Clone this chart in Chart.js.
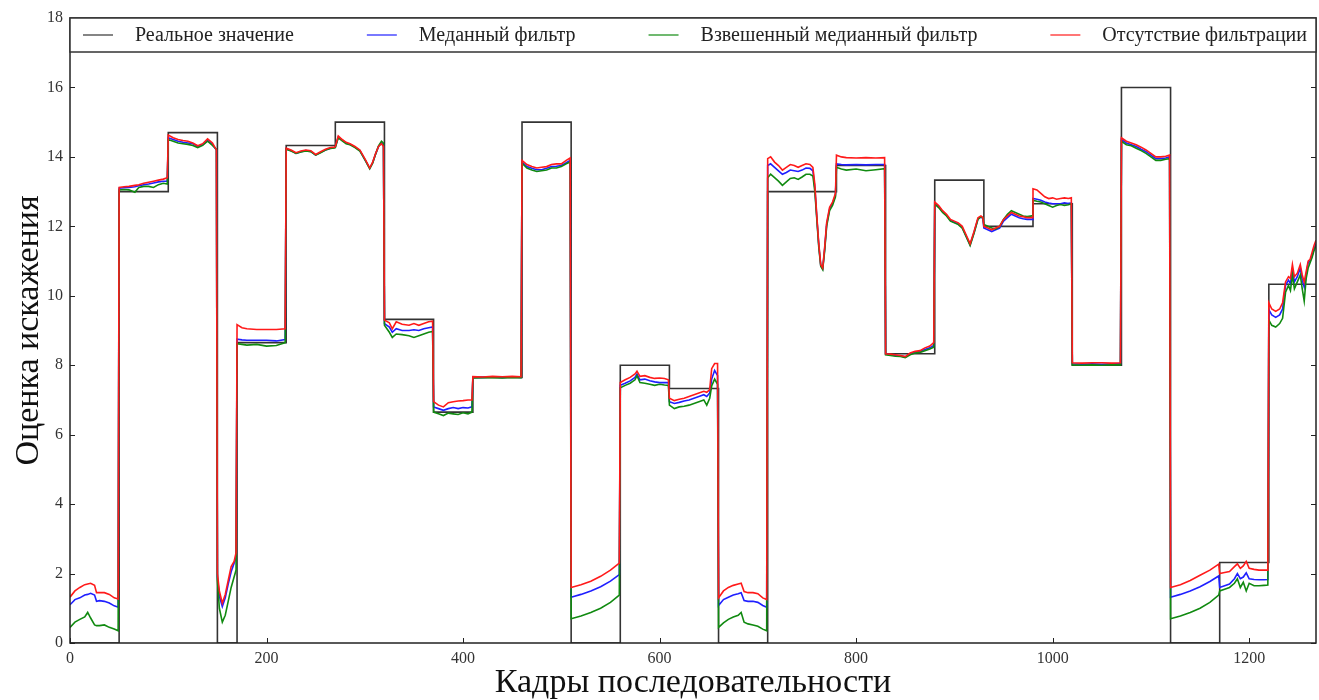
<!DOCTYPE html>
<html>
<head>
<meta charset="utf-8">
<script src="https://cdn.jsdelivr.net/npm/chart.js@4.4.1/dist/chart.umd.min.js"></script>
<style>
  body { margin: 0; background: #fff; }
  canvas { display: block; }
</style>
</head>
<body>
<canvas id="chart" width="1319" height="700"></canvas>
<script>
// real (ground truth) distortion: step starts and levels
var realStarts = [0, 50, 100, 150, 170, 220, 270, 320, 370, 410, 460, 510, 560, 610, 660, 710, 780, 830, 880, 930, 980, 1020, 1070, 1120, 1170, 1220, 1268];
var realLevels = [0, 13, 14.7, 0, 8.65, 14.33, 15, 9.32, 6.65, 7.65, 15, 0, 8, 7.33, 0, 13, 13.75, 8.33, 13.33, 12, 12.65, 8, 16, 0, 2.32, 10.33, 10.33];

// sampled frames for the filtered estimates
var frames = [
  0, 5, 10, 15, 18, 21, 25, 27, 30, 35, 40, 45, 49,
  50, 55, 60, 66, 70, 75, 80, 85, 90, 95, 99,
  100, 105, 110, 115, 120, 125, 130, 135, 140, 145, 149,
  150, 152, 155, 158, 161, 164, 167, 169,
  170, 175, 180, 190, 200, 210, 219,
  220, 225, 230, 235, 240, 245, 250, 255, 260, 265, 269,
  270, 273, 277, 281, 285, 290, 295, 298, 301, 305, 308, 311, 314, 317, 319,
  320, 325, 328, 332, 338, 345, 350, 355, 360, 365, 369,
  370, 375, 380, 385, 390, 395, 400, 405, 409,
  410, 420, 430, 440, 450, 459,
  460, 465, 470, 475, 480, 485, 490, 495, 500, 505, 509,
  510, 520, 530, 540, 550, 559,
  560, 565, 570, 575, 577, 580, 585, 590, 595, 600, 605, 609,
  610, 615, 620, 625, 630, 635, 640, 645, 648, 651, 653, 656, 659,
  660, 665, 670, 675, 680, 683, 686, 690, 695, 700, 705, 709,
  710, 713, 717, 721, 725, 729, 733, 737, 741, 745, 749, 753, 756, 758, 760, 762, 764, 766, 768, 770, 773, 776, 779,
  780, 785, 790, 800, 810, 820, 829,
  830, 835, 840, 845, 850, 855, 860, 865, 870, 875, 879,
  880, 884, 888, 892, 896, 900, 904, 908, 912, 916, 920, 924, 927, 929,
  930, 934, 938, 942, 946, 950, 954, 958, 962, 966, 970, 974, 979,
  980, 984, 988, 992, 996, 1000, 1004, 1008, 1012, 1016, 1019,
  1020, 1030, 1040, 1050, 1060, 1069,
  1070, 1075, 1080, 1085, 1090, 1095, 1100, 1105, 1110, 1115, 1119,
  1120, 1130, 1140, 1150, 1160, 1169,
  1170, 1175, 1180, 1185, 1188, 1191, 1194, 1197, 1200, 1205, 1210, 1215, 1219,
  1220, 1223, 1227, 1231, 1234, 1237, 1240, 1242, 1244, 1246, 1249, 1252, 1254, 1256, 1258, 1260, 1262, 1264, 1266, 1268
];

var medianVals = [
  1.1, 1.25, 1.3, 1.38, 1.4, 1.43, 1.38, 1.2, 1.22, 1.2, 1.15, 1.07, 1.03,
  13.1, 13.11, 13.12, 13.14, 13.17, 13.2, 13.22, 13.25, 13.28, 13.3, 13.3,
  14.55, 14.5, 14.45, 14.42, 14.4, 14.38, 14.3, 14.35, 14.48, 14.35, 14.2,
  1.9, 1.35, 1.05, 1.3, 1.7, 2.05, 2.3, 2.45,
  8.75, 8.73, 8.72, 8.72, 8.72, 8.7, 8.74,
  14.23, 14.18, 14.1, 14.15, 14.18, 14.16, 14.05, 14.13, 14.2, 14.25, 14.27,
  14.28, 14.57, 14.48, 14.4, 14.36, 14.28, 14.18, 14.03, 13.88, 13.67, 13.83, 14.08, 14.3, 14.4, 14.35,
  9.2, 9.1, 8.95, 9.05, 9.0, 9.0, 9.02, 9.0, 9.05, 9.08, 9.1,
  6.8, 6.75, 6.7, 6.75, 6.78, 6.75, 6.78, 6.77, 6.8,
  7.65, 7.65, 7.66, 7.65, 7.66, 7.65,
  13.85, 13.72, 13.67, 13.63, 13.63, 13.67, 13.72, 13.73, 13.75, 13.83, 13.9,
  1.32, 1.4, 1.5, 1.62, 1.78, 1.97,
  7.42, 7.48, 7.55, 7.65, 7.75, 7.58, 7.6, 7.55, 7.52, 7.5, 7.5, 7.5,
  6.95, 6.9, 6.93, 6.97, 7.0, 7.05, 7.1, 7.15, 7.1, 7.2, 7.6, 7.85, 7.7,
  1.08, 1.25, 1.32, 1.38, 1.42, 1.45, 1.22, 1.2, 1.2, 1.17, 1.08, 1.03,
  13.75, 13.8, 13.7, 13.6, 13.5, 13.55, 13.62, 13.6, 13.58, 13.62, 13.68, 13.67, 13.6, 13.1, 12.25, 11.45, 10.87, 10.78, 11.35, 12.05, 12.5, 12.65, 12.9,
  13.8, 13.78, 13.77, 13.78, 13.77, 13.78, 13.78,
  8.32, 8.3, 8.28, 8.27, 8.24, 8.33, 8.37, 8.4, 8.45, 8.5, 8.57,
  12.67, 12.57, 12.42, 12.32, 12.17, 12.12, 12.07, 11.97, 11.72, 11.47, 11.82, 12.22, 12.27, 12.22,
  11.95, 11.9, 11.85, 11.9, 11.95, 12.15, 12.25, 12.35, 12.3, 12.25, 12.22, 12.2, 12.2,
  12.8, 12.78, 12.75, 12.7, 12.67, 12.65, 12.65, 12.65, 12.68, 12.66, 12.67,
  8.04, 8.03, 8.04, 8.03, 8.04, 8.04,
  14.5, 14.4, 14.35, 14.3, 14.22, 14.15, 14.05, 13.95, 13.95, 13.97, 14.0,
  1.32, 1.4, 1.5, 1.62, 1.77, 1.93,
  1.6, 1.65, 1.7, 1.85, 2.0, 1.85, 1.9, 2.02, 1.85, 1.83, 1.82, 1.82, 1.83,
  9.6, 9.45, 9.38, 9.45, 9.62, 10.3, 10.45, 10.35, 10.75, 10.4, 10.55, 10.8, 10.45, 10.25, 10.6, 10.95, 11.0, 11.15, 11.35, 11.5
];

var weightedVals = [
  0.45, 0.6, 0.68, 0.75, 0.88, 0.72, 0.52, 0.5, 0.5, 0.52, 0.45, 0.4, 0.35,
  13.05, 13.06, 13.05, 12.98, 13.12, 13.15, 13.15, 13.12, 13.2, 13.24, 13.22,
  14.5, 14.45, 14.4, 14.38, 14.36, 14.33, 14.27, 14.33, 14.45, 14.33, 14.22,
  1.8, 1.0, 0.6, 0.8, 1.2, 1.6, 1.9, 2.1,
  8.62, 8.6, 8.58, 8.6, 8.55, 8.57, 8.65,
  14.22, 14.17, 14.1, 14.14, 14.17, 14.15, 14.05, 14.12, 14.2, 14.24, 14.26,
  14.27, 14.55, 14.46, 14.38, 14.35, 14.27, 14.17, 14.02, 13.87, 13.66, 13.82, 14.08, 14.32, 14.45, 14.4,
  9.15, 8.95, 8.8, 8.9, 8.88, 8.85, 8.8, 8.85, 8.9, 8.95, 8.97,
  6.65, 6.6, 6.55, 6.62, 6.6, 6.58, 6.63, 6.6, 6.65,
  7.63, 7.64, 7.64, 7.63, 7.65, 7.64,
  13.82, 13.68, 13.62, 13.58, 13.6, 13.62, 13.68, 13.68, 13.72, 13.8, 13.85,
  0.7, 0.78, 0.88, 1.0, 1.17, 1.38,
  7.35, 7.42, 7.48, 7.58, 7.7, 7.5, 7.48, 7.45, 7.42, 7.45, 7.43, 7.42,
  6.85, 6.75, 6.8, 6.82, 6.85, 6.9, 6.95, 7.0, 6.85, 7.05, 7.4, 7.6, 7.45,
  0.45, 0.58, 0.68, 0.75, 0.8, 0.88, 0.6, 0.55, 0.52, 0.48, 0.4, 0.35,
  13.4, 13.5, 13.4, 13.3, 13.18, 13.28, 13.38, 13.4, 13.35, 13.42, 13.5, 13.5, 13.45, 13.0, 12.2, 11.4, 10.85, 10.75, 11.3, 12.0, 12.45, 12.6, 12.85,
  13.7, 13.65, 13.62, 13.65, 13.6, 13.63, 13.66,
  8.3, 8.28, 8.26, 8.25, 8.22, 8.3, 8.35, 8.37, 8.42, 8.47, 8.52,
  12.64, 12.54, 12.4, 12.3, 12.15, 12.1, 12.05, 11.95, 11.7, 11.45, 11.8, 12.2, 12.28, 12.25,
  12.05, 12.0, 11.95, 11.92, 12.0, 12.2, 12.35, 12.45, 12.4, 12.35, 12.3, 12.28, 12.3,
  12.75, 12.72, 12.7, 12.65, 12.6, 12.55, 12.6, 12.63, 12.6, 12.62, 12.65,
  8.01, 8.0, 8.01, 8.0, 8.01, 8.01,
  14.45, 14.35, 14.32, 14.25, 14.18, 14.1, 14.0, 13.9, 13.9, 13.93, 13.95,
  0.7, 0.78, 0.88, 1.0, 1.17, 1.38,
  1.5, 1.55, 1.6, 1.72, 1.85, 1.6, 1.75, 1.5, 1.72, 1.65, 1.65, 1.66, 1.67,
  9.3, 9.15, 9.1, 9.2, 9.35, 10.1, 10.3, 10.15, 10.6, 10.2, 10.4, 10.6, 10.2, 9.85, 10.5, 10.8, 10.95, 11.1, 11.3, 11.45
];

var rawVals = [
  1.32, 1.5, 1.6, 1.68, 1.7, 1.72, 1.66, 1.45, 1.45, 1.45, 1.4, 1.3, 1.27,
  13.12, 13.14, 13.15, 13.18, 13.2, 13.24, 13.27, 13.3, 13.33, 13.36, 13.4,
  14.63, 14.55, 14.5, 14.47, 14.45, 14.4, 14.32, 14.38, 14.52, 14.4, 14.2,
  2.0, 1.5, 1.15, 1.4, 1.8, 2.2, 2.35, 2.6,
  9.17, 9.08, 9.05, 9.03, 9.03, 9.03, 9.05,
  14.25, 14.2, 14.12, 14.17, 14.2, 14.18, 14.07, 14.15, 14.22, 14.27, 14.28,
  14.3, 14.6, 14.5, 14.42, 14.38, 14.3, 14.2, 14.05, 13.9, 13.68, 13.85, 14.1, 14.3, 14.38, 14.3,
  9.3, 9.22, 9.05, 9.25, 9.18, 9.15, 9.2, 9.15, 9.2, 9.25, 9.27,
  6.95, 6.85, 6.8, 6.92, 6.95, 6.97, 6.98, 7.0, 7.0,
  7.67, 7.66, 7.68, 7.67, 7.68, 7.67,
  13.9, 13.78, 13.72, 13.68, 13.7, 13.72, 13.78, 13.8, 13.8, 13.9, 13.97,
  1.6, 1.68, 1.78, 1.92, 2.1, 2.3,
  7.5, 7.58, 7.65, 7.75, 7.83, 7.68, 7.7, 7.65, 7.62, 7.63, 7.62, 7.58,
  7.05, 6.98, 7.02, 7.05, 7.1, 7.15, 7.2, 7.25, 7.22, 7.3, 7.9, 8.05, 8.05,
  1.3, 1.5, 1.6, 1.66, 1.7, 1.72, 1.48, 1.45, 1.45, 1.42, 1.3, 1.25,
  13.95, 14.0, 13.85, 13.75, 13.62, 13.7, 13.78, 13.75, 13.7, 13.75, 13.8, 13.78, 13.7, 13.2, 12.3, 11.5, 10.9, 10.8, 11.4, 12.1, 12.55, 12.7, 12.95,
  14.05, 14.0, 13.98, 13.97, 13.98, 13.97, 13.98,
  8.33, 8.32, 8.3, 8.28, 8.25, 8.35, 8.4, 8.42, 8.5, 8.55, 8.65,
  12.7, 12.6, 12.45, 12.35, 12.2, 12.15, 12.1, 12.0, 11.75, 11.5, 11.85, 12.25, 12.3, 12.25,
  12.0, 11.95, 11.9, 11.95, 12.0, 12.2, 12.3, 12.4, 12.35, 12.3, 12.28, 12.25, 12.25,
  13.08, 13.05, 12.95, 12.85, 12.8, 12.82, 12.78, 12.8, 12.82, 12.8, 12.82,
  8.07, 8.06, 8.07, 8.07, 8.06, 8.07,
  14.55, 14.45, 14.4, 14.35, 14.28, 14.2, 14.1, 14.0, 14.0, 14.02, 14.05,
  1.6, 1.68, 1.8, 1.95, 2.1, 2.27,
  2.0, 2.03, 2.06, 2.2, 2.28, 2.15, 2.22, 2.35, 2.15, 2.12, 2.1, 2.1, 2.1,
  9.8, 9.62, 9.55, 9.62, 9.8, 10.4, 10.55, 10.5, 10.9, 10.55, 10.65, 10.9, 10.6, 10.4, 10.7, 11.0, 11.05, 11.25, 11.45, 11.6
];

var seriesNames = ['Реальное значение', 'Меданный фильтр', 'Взвешенный медианный фильтр', 'Отсутствие фильтрации'];
var seriesColors = ['rgba(0,0,0,0.8)', '#1f1fff', '#108a10', '#ff1a1a'];

var xTicks = [0, 200, 400, 600, 800, 1000, 1200];
var yTicks = [0, 2, 4, 6, 8, 10, 12, 14, 16, 18];

var serif = '"Liberation Serif", "DejaVu Serif", serif';

function pts(vals) {
  return frames.map(function (f, i) { return { x: f, y: vals[i] }; });
}

// axes frame + inward ticks (matplotlib classic look)
var frameTicks = {
  id: 'frameTicks',
  afterDatasetsDraw: function (chart) {
    var ctx = chart.ctx, a = chart.chartArea;
    var xs = chart.scales.x, ys = chart.scales.y;
    ctx.save();
    ctx.strokeStyle = '#222';
    ctx.lineWidth = 1;
    ctx.beginPath();
    xTicks.forEach(function (v) {
      var px = Math.round(xs.getPixelForValue(v)) + 0.5;
      ctx.moveTo(px, a.bottom); ctx.lineTo(px, a.bottom - 5);
      ctx.moveTo(px, a.top); ctx.lineTo(px, a.top + 5);
    });
    yTicks.forEach(function (v) {
      var py = Math.round(ys.getPixelForValue(v)) + 0.5;
      ctx.moveTo(a.left, py); ctx.lineTo(a.left + 5, py);
      ctx.moveTo(a.right, py); ctx.lineTo(a.right - 5, py);
    });
    ctx.stroke();
    ctx.lineWidth = 1.5;
    ctx.strokeRect(a.left, a.top, a.right - a.left, a.bottom - a.top);
    ctx.restore();
  }
};

// legend drawn inside the top of the axes, columns spread across the width
var legendBox = {
  id: 'legendBox',
  afterDraw: function (chart) {
    var ctx = chart.ctx, a = chart.chartArea;
    var h = 34, lineLen = 30, textGap = 22;
    ctx.save();
    ctx.fillStyle = '#fff';
    ctx.fillRect(a.left, a.top, a.right - a.left, h);
    ctx.strokeStyle = '#333';
    ctx.lineWidth = 1.5;
    ctx.strokeRect(a.left, a.top, a.right - a.left, h);
    ctx.font = '20px ' + serif;
    var ds = chart.data.datasets;
    var widths = ds.map(function (d) { return lineLen + textGap + ctx.measureText(d.label).width; });
    var total = widths.reduce(function (s, w) { return s + w; }, 0);
    var x0 = a.left + 13, x1 = a.right - 9;
    var gap = (x1 - x0 - total) / (ds.length - 1);
    var x = x0, y = a.top + h / 2;
    ds.forEach(function (d, i) {
      ctx.strokeStyle = d.borderColor;
      ctx.globalAlpha = 0.6;
      ctx.lineWidth = 2;
      ctx.beginPath();
      ctx.moveTo(x, y); ctx.lineTo(x + lineLen, y);
      ctx.stroke();
      ctx.globalAlpha = 1;
      ctx.fillStyle = '#222';
      ctx.textBaseline = 'middle';
      ctx.fillText(d.label, x + lineLen + textGap, y + 1);
      x += widths[i] + gap;
    });
    ctx.restore();
  }
};

var lineOpts = { borderWidth: 1.6, pointRadius: 0, tension: 0, fill: false };

var myChart = new Chart(document.getElementById('chart'), {
  type: 'line',
  data: {
    datasets: [
      Object.assign({
        label: seriesNames[0],
        data: realStarts.map(function (s, i) { return { x: s, y: realLevels[i] }; }),
        borderColor: seriesColors[0],
        stepped: 'before',
        order: 3
      }, lineOpts),
      Object.assign({ label: seriesNames[1], data: pts(medianVals), borderColor: seriesColors[1], order: 2 }, lineOpts),
      Object.assign({ label: seriesNames[2], data: pts(weightedVals), borderColor: seriesColors[2], order: 1 }, lineOpts),
      Object.assign({ label: seriesNames[3], data: pts(rawVals), borderColor: seriesColors[3], order: 0 }, lineOpts)
    ]
  },
  options: {
    responsive: false,
    animation: false,
    devicePixelRatio: 1,
    layout: { padding: { top: 18, right: 3, left: 0, bottom: 0 } },
    plugins: {
      legend: { display: false },
      tooltip: { enabled: false }
    },
    scales: {
      x: {
        type: 'linear',
        min: 0,
        max: 1268,
        afterBuildTicks: function (s) { s.ticks = xTicks.map(function (v) { return { value: v }; }); },
        afterFit: function (s) { s.height = 57; },
        grid: { display: false, drawTicks: false },
        border: { display: false },
        ticks: {
          color: '#333', padding: 6, maxRotation: 0,
          font: { family: serif, size: 16 },
          callback: function (v) { return String(v); }
        },
        title: {
          display: true,
          text: 'Кадры последовательности',
          color: '#111',
          padding: { top: 0, bottom: 0 },
          font: { family: serif, size: 34, lineHeight: 1 }
        }
      },
      y: {
        min: 0,
        max: 18,
        afterBuildTicks: function (s) { s.ticks = yTicks.map(function (v) { return { value: v }; }); },
        afterFit: function (s) { s.width = 70; },
        grid: { display: false, drawTicks: false },
        border: { display: false },
        ticks: { color: '#333', padding: 7, font: { family: serif, size: 16 } },
        title: {
          display: true,
          text: 'Оценка искажения',
          color: '#111',
          padding: { top: 12, bottom: 0 },
          font: { family: serif, size: 34, lineHeight: 1 }
        }
      }
    }
  },
  plugins: [frameTicks, legendBox]
});
</script>
</body>
</html>
